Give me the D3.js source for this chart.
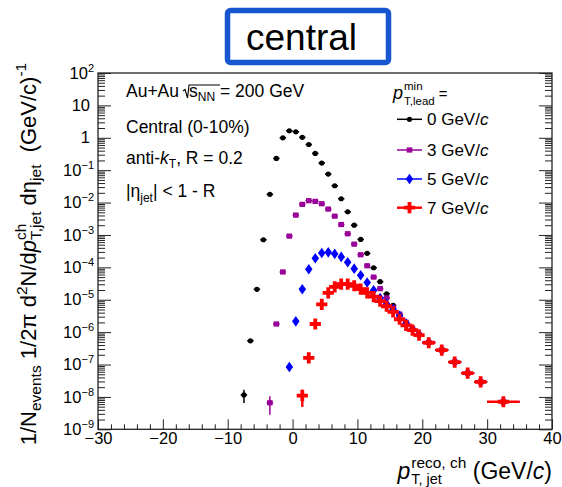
<!DOCTYPE html>
<html><head><meta charset="utf-8">
<script src="https://cdn.jsdelivr.net/npm/d3@7"></script>
<style>
body{margin:0;background:#fff}
svg{display:block;font-family:'Liberation Sans',Arial,Helvetica,sans-serif}
svg text{white-space:pre}
</style>
</head><body><svg id="c" width="562" height="487"></svg>
<script>
// ---------------- data ----------------
const binCenters = [-7.5,-6.5,-5.5,-4.5,-3.5,-2.5,-1.5,-0.5,0.5,1.5,2.5,3.5,4.5,5.5,6.5,7.5,8.5,9.5,10.5,11.5,12.5,13.5,14.5,15.5,16.5,17.5,18.5,19.5,21,23,25,27,29,32.5];
const binHalfWidths = [0.5,0.5,0.5,0.5,0.5,0.5,0.5,0.5,0.5,0.5,0.5,0.5,0.5,0.5,0.5,0.5,0.5,0.5,0.5,0.5,0.5,0.5,0.5,0.5,0.5,0.5,0.5,0.5,1,1,1,1,1,2.5];
const lead0 = [1.15e-8,5.4e-7,2.1e-5,7.1e-4,0.0179,0.23,1.0,1.65,1.53,1.03,0.62,0.33,0.166,0.076,0.033,0.0131,0.0052,0.0020,7.3e-4,2.7e-4,9.7e-5,3.6e-5,1.53e-5,6.7e-6,3.4e-6,1.9e-6,1.22e-6,8.4e-7,4.8e-7,2.8e-7,1.2e-7,5.4e-8,2.9e-8,7.1e-9];
const lead3 = [null,null,null,null,6.6e-9,1.78e-6,7.2e-5,9.2e-4,0.0041,0.0088,0.0114,0.0109,0.0092,0.0063,0.0038,0.0021,0.00109,5.2e-4,2.45e-4,1.12e-4,5.0e-5,2.2e-5,1.15e-5,5.8e-6,3.6e-6,2.0e-6,1.25e-6,8.4e-7,4.8e-7,2.8e-7,1.2e-7,5.4e-8,2.9e-8,7.1e-9];
const lead5 = [null,null,null,null,null,null,null,8.4e-8,2.15e-6,2.1e-5,8.7e-5,1.9e-4,2.77e-4,2.9e-4,2.6e-4,2.1e-4,1.43e-4,9.1e-5,5.7e-5,3.4e-5,1.95e-5,1.13e-5,7.4e-6,5.1e-6,3.2e-6,1.85e-6,1.2e-6,8.3e-7,4.8e-7,2.8e-7,1.2e-7,5.4e-8,2.9e-8,7.1e-9];
const lead7 = [null,null,null,null,null,null,null,null,null,1.09e-8,1.6e-7,1.78e-6,7.2e-6,1.64e-5,2.5e-5,3.05e-5,3.05e-5,2.7e-5,2.14e-5,1.64e-5,1.24e-5,9.1e-6,6.3e-6,4.2e-6,2.5e-6,1.62e-6,1.16e-6,8.1e-7,4.7e-7,2.8e-7,1.19e-7,5.4e-8,2.9e-8,7.1e-9];
// visible vertical errors (bin center -> error), per series
const lead0Err = {"-7.5":5e-9};
const lead3Err = {"-3.5":3.8e-9};
const lead5Err = {};
const lead7Err = {"1.5":6e-9};
const seriesNames = ["0 GeV/","3 GeV/","5 GeV/","7 GeV/"];
const seriesColors = ["#000000","#990099","#0000ff","#ff0000"];
const seriesMarkers = ["circle","square","diamond","cross"];
const xMajorTicks = [-30,-20,-10,0,10,20,30,40];
const xMinorTicks = [-28,-26,-24,-22,-18,-16,-14,-12,-8,-6,-4,-2,2,4,6,8,12,14,16,18,22,24,26,28,32,34,36,38];
const yDecades = [-9,-8,-7,-6,-5,-4,-3,-2,-1,0,1,2];

// ---------------- layout ----------------
const L=98,R=552,T=73,B=429.3;
const x=d3.scaleLinear().domain([-30,40]).range([L,R]);
const y=d3.scaleLog().domain([1e-9,1e2]).range([B,T]);
const svg=d3.select('#c');

function rich(parent, parts, opt){
  opt=opt||{};
  const g=parent.append('g');
  let cx=0, stackStart=null, stackW=0;
  parts.forEach(p=>{
    const t=g.append('text').attr('x',cx).attr('y',p.dy||0)
      .attr('font-size',p.size||opt.base||16).attr('fill',p.fill||'#000').text(p.t);
    if(p.italic) t.attr('font-style','italic');
    const w=t.node().getComputedTextLength();
    if(p.stack){ stackStart=cx; stackW=w; }
    else if(stackStart!==null){ cx=stackStart+Math.max(stackW,w); stackStart=null; }
    else cx+=w+(p.gap||0);
  });
  const a=opt.anchor||'start';
  const off=a==='end'?-cx:a==='middle'?-cx/2:0;
  g.attr('transform',`translate(${(opt.x||0)+off},${opt.y||0})`);
  return cx;
}

// ---------------- title box ----------------
svg.append('rect').attr('x',227.5).attr('y',10.5).attr('width',161).attr('height',52)
  .attr('rx',3).attr('fill','#fff').attr('stroke','#1657cf').attr('stroke-width',5.5);
svg.append('text').attr('x',246).attr('y',50).attr('font-size',37).text('central');

// ---------------- axes ----------------
const axG=svg.append('g');
axG.append('g').attr('transform',`translate(0,${B})`)
  .call(d3.axisBottom(x).tickValues(xMajorTicks).tickSize(-10).tickPadding(2.5).tickFormat(d3.format('d')));
axG.append('g').attr('transform',`translate(0,${B})`)
  .call(d3.axisBottom(x).tickValues(xMinorTicks).tickSize(-5).tickFormat(''));
const yMinorVals=[];
yDecades.forEach(e=>{ if(e<2) for(let k=2;k<=9;k++) yMinorVals.push(k*Math.pow(10,e)); });
const yMajVals=yDecades.map(e=>Math.pow(10,e));
axG.append('g').attr('transform',`translate(${L},0)`).call(d3.axisLeft(y).tickValues(yMajVals).tickSize(-13).tickFormat(''));
axG.append('g').attr('transform',`translate(${L},0)`).call(d3.axisLeft(y).tickValues(yMinorVals).tickSize(-7).tickFormat(''));
axG.append('g').attr('transform',`translate(${R},0)`).call(d3.axisRight(y).tickValues(yMajVals).tickSize(-13).tickFormat(''));
axG.append('g').attr('transform',`translate(${R},0)`).call(d3.axisRight(y).tickValues(yMinorVals).tickSize(-7).tickFormat(''));
axG.selectAll('.domain').remove();
axG.selectAll('.tick line').attr('stroke','#222').attr('stroke-width',1);
axG.selectAll('.tick text').attr('font-size',16.5).attr('font-family',"'Liberation Sans',Arial,sans-serif").attr('fill','#000');

// y tick labels
yDecades.forEach(e=>{
  const yy=y(Math.pow(10,e))+5.7;
  if(e===0) rich(svg,[{t:'1',size:16.5}],{x:90,y:yy,anchor:'end'});
  else if(e===1) rich(svg,[{t:'10',size:16.5}],{x:90,y:yy,anchor:'end'});
  else rich(svg,[{t:'10',size:16.5},{t:(e<0?'\u2212'+(-e):''+e),size:11,dy:-7}],{x:94,y:yy,anchor:'end'});
});

// frame
svg.append('rect').attr('x',L).attr('y',T).attr('width',R-L).attr('height',B-T)
  .attr('fill','none').attr('stroke','#222').attr('stroke-width',1.3);

// ---------------- data ----------------
function marker(g,type,cx,cy,color){
  if(type==='circle') g.append('circle').attr('cx',cx).attr('cy',cy).attr('r',2.6).attr('fill',color);
  else if(type==='square') g.append('rect').attr('x',cx-2.8).attr('y',cy-2.6).attr('width',5.6).attr('height',5.2).attr('fill',color);
  else if(type==='diamond') g.append('path').attr('d',`M${cx},${cy-5.3}L${cx+3.7},${cy}L${cx},${cy+5.3}L${cx-3.7},${cy}Z`).attr('fill',color);
  else if(type==='cross'){
    const a=5.6,b=1.9;
    g.append('path').attr('d',`M${cx-b},${cy-a}H${cx+b}V${cy-b}H${cx+a}V${cy+b}H${cx+b}V${cy+a}H${cx-b}V${cy+b}H${cx-a}V${cy-b}H${cx-b}Z`).attr('fill',color);
  }
}
const allSeries=[lead0,lead3,lead5,lead7];
const allErr=[lead0Err,lead3Err,lead5Err,lead7Err];
const dataG=svg.append('g');
allSeries.forEach((vals,si)=>{
  const g=dataG.append('g');
  const col=seriesColors[si];
  const sw= si===3?2.4:1.5;
  vals.forEach((v,i)=>{
    if(v==null) return;
    const c=binCenters[i], hw=binHalfWidths[i];
    const cy=y(v);
    g.append('line').attr('x1',x(c-hw)).attr('x2',x(c+hw)).attr('y1',cy).attr('y2',cy).attr('stroke',col).attr('stroke-width',sw);
    const er=allErr[si][String(c)];
    if(er){
      g.append('line').attr('x1',x(c)).attr('x2',x(c)).attr('y1',y(v+er)).attr('y2',y(Math.max(v-er,1.1e-9))).attr('stroke',col).attr('stroke-width',sw);
    }
    marker(g,seriesMarkers[si],x(c),cy,col);
  });
});

// ---------------- annotations ----------------
const fs=17.5;
const auW=rich(svg,[{t:'Au+Au',size:fs}],{x:126,y:97});
const rx=126+auW+5;
rich(svg,[{t:'s',size:fs},{t:'NN',size:12,dy:4},{t:' = 200 GeV',size:fs}],{x:rx+5,y:97});
svg.append('path').attr('d',`M${rx-1},${91}L${rx+1},${89.5}L${rx+3.5},${98}L${rx+5},${85}L${rx+36},${85}`)
  .attr('fill','none').attr('stroke','#000').attr('stroke-width',1.1);
rich(svg,[{t:'Central (0-10%)',size:fs}],{x:126,y:132.5});
rich(svg,[{t:'anti-',size:fs},{t:'k',size:fs,italic:true},{t:'T',size:12,dy:4},{t:', R = 0.2',size:fs}],{x:126,y:164});
rich(svg,[{t:'|\u03b7',size:fs},{t:'jet',size:12,dy:5},{t:'| < 1 - R',size:fs}],{x:126,y:197});

// legend
rich(svg,[{t:'p',size:18,italic:true,gap:1},{t:'min',size:11.5,dy:-9,stack:true},{t:'T,lead',size:11.5,dy:6},{t:' =',size:15}],{x:393,y:98.5});
const legY=[119.3,150,179,207.7];
seriesNames.forEach((n,i)=>{
  const g=svg.append('g');
  g.append('line').attr('x1',397).attr('x2',422).attr('y1',legY[i]).attr('y2',legY[i]).attr('stroke',seriesColors[i]).attr('stroke-width',i===3?2.4:1.5);
  marker(g,seriesMarkers[i],409.5,legY[i],seriesColors[i]);
  rich(svg,[{t:n,size:17},{t:'c',size:17,italic:true}],{x:427,y:legY[i]+6});
});

// axis titles
rich(svg,[{t:'p',size:23,italic:true,gap:1},{t:'reco, ch',size:15.5,dy:-11,stack:true},{t:'T, jet',size:14.5,dy:4.5},{t:' (GeV/',size:23},{t:'c',size:23,italic:true},{t:')',size:23}],{x:552,y:479,anchor:'end'});
const yt=svg.append('g').attr('transform','translate(36,254) rotate(-90)');
rich(yt,[{t:'1/N',size:22},{t:'events',size:15.5,dy:5},{t:' 1/2\u03c0 d',size:22},{t:'2',size:15.5,dy:-9},{t:'N/d',size:22},
  {t:'p',size:22,italic:true},{t:'ch',size:15.5,dy:-10,stack:true},{t:'T,jet',size:15.5,dy:5},{t:' d\u03b7',size:22},{t:'jet',size:15.5,dy:5},
  {t:'  (GeV/c)',size:22},{t:'-1',size:15.5,dy:-10}],{anchor:'middle'});
</script></body></html>
